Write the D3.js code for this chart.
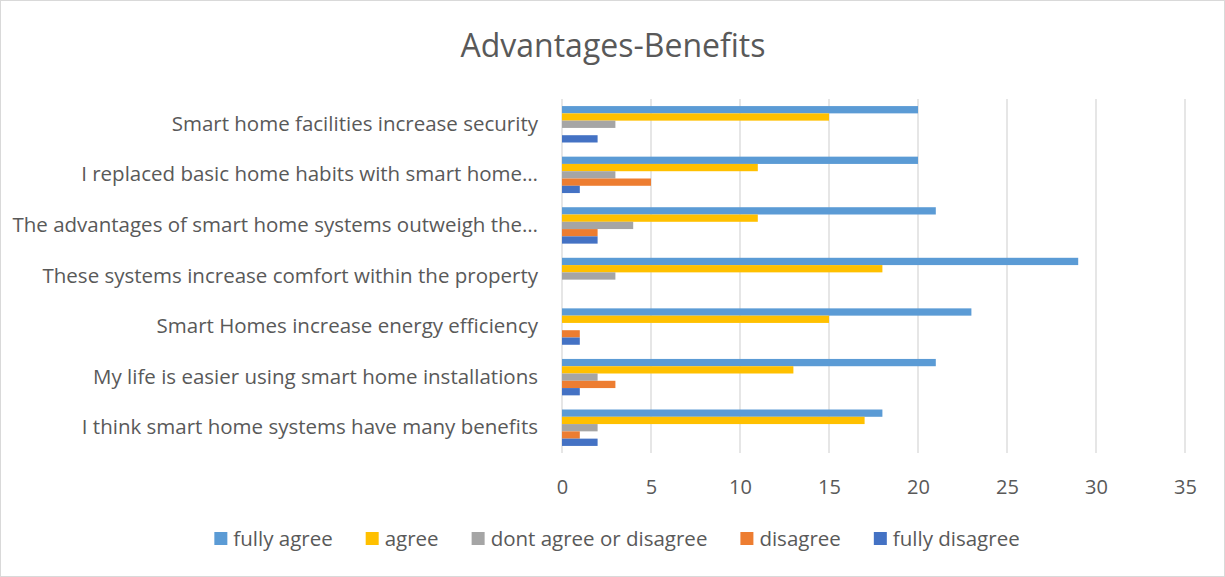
<!DOCTYPE html>
<html>
<head>
<meta charset="utf-8">
<script src="https://cdn.jsdelivr.net/npm/d3@7"></script>
<style>
  body { margin: 0; background: #fff; }
  text { font-family: "Open Sans", "Noto Sans", sans-serif; fill: #595959; }
</style>
</head>
<body>
<div id="chart"></div>
<script>
// categories, top to bottom as drawn
const categories = [
  "Smart home facilities increase security",
  "I replaced basic home habits with smart home\u2026",
  "The advantages of smart home systems outweigh the\u2026",
  "These systems increase comfort within the property",
  "Smart Homes increase energy efficiency",
  "My life is easier using smart home installations",
  "I think smart home systems have many benefits"
];

const seriesNames = ["fully agree", "agree", "dont agree or disagree", "disagree", "fully disagree"];
const seriesColors = ["#5B9BD5", "#FFC000", "#A5A5A5", "#ED7D31", "#4472C4"];

// values per series, same order as categories
const fullyAgree    = [20, 20, 21, 29, 23, 21, 18];
const agree         = [15, 11, 11, 18, 15, 13, 17];
const neutral       = [3, 3, 4, 3, 0, 2, 2];
const disagree      = [0, 5, 2, 0, 1, 3, 1];
const fullyDisagree = [2, 1, 2, 0, 1, 1, 2];

const xTicks = [0, 5, 10, 15, 20, 25, 30, 35];

const seriesValues = [fullyAgree, agree, neutral, disagree, fullyDisagree];

const width = 1225, height = 577;
const plot = {left: 562, right: 1185, top: 99, bottom: 453};

let svg = d3.select("#chart")
  .append("svg")
  .attr("width", width)
  .attr("height", height);

// outer frame
svg.append("rect")
  .attr("x", 0.5).attr("y", 0.5)
  .attr("width", width - 1).attr("height", height - 1)
  .attr("fill", "#fff")
  .attr("stroke", "#D9D9D9");

let x = d3.scaleLinear().domain([0, 35]).range([plot.left, plot.right]);

let y0 = d3.scaleBand()
  .domain(categories)
  .range([plot.top, plot.bottom])
  .paddingInner(0.28)
  .paddingOuter(0.14);

let y1 = d3.scaleBand()
  .domain(seriesNames)
  .range([0, y0.bandwidth()]);

// gridlines
svg.append("g")
  .selectAll("line")
  .data(xTicks)
  .join("line")
  .attr("x1", d => x(d)).attr("x2", d => x(d))
  .attr("y1", plot.top).attr("y2", plot.bottom)
  .attr("stroke", "#D9D9D9")
  .attr("stroke-width", 1.3);

// bars
let rows = [];
categories.forEach(function(c, i) {
  seriesNames.forEach(function(s, j) {
    rows.push({cat: c, series: s, value: seriesValues[j][i], color: seriesColors[j]});
  });
});

svg.append("g")
  .selectAll("rect")
  .data(rows.filter(d => d.value > 0))
  .join("rect")
  .attr("x", x(0))
  .attr("y", d => y0(d.cat) + y1(d.series))
  .attr("width", d => x(d.value) - x(0))
  .attr("height", y1.bandwidth())
  .attr("fill", d => d.color);

// x axis labels
let xAxis = d3.axisBottom(x).tickValues(xTicks).tickSize(0).tickPadding(27);
let gx = svg.append("g")
  .attr("transform", "translate(0," + plot.bottom + ")")
  .call(xAxis);
gx.select(".domain").remove();
gx.selectAll("text")
  .style("font-size", "20px")
  .attr("fill", "#595959");

// category labels
let yAxis = d3.axisLeft(y0).tickSize(0).tickPadding(24);
let gy = svg.append("g")
  .attr("transform", "translate(" + plot.left + ",0)")
  .call(yAxis);
gy.select(".domain").remove();
gy.selectAll("text")
  .style("font-size", "20.5px")
  .attr("fill", "#595959");

// title
svg.append("text")
  .attr("x", 613)
  .attr("y", 57)
  .attr("text-anchor", "middle")
  .style("font-size", "32px")
  .text("Advantages-Benefits");

// legend
let legend = svg.append("g").attr("class", "legend");
let items = legend.selectAll("g")
  .data(seriesNames)
  .join("g");

items.append("rect")
  .attr("width", 13).attr("height", 13)
  .attr("y", -14)
  .attr("fill", (d, i) => seriesColors[i]);

items.append("text")
  .attr("x", 19)
  .attr("y", 0)
  .style("font-size", "20.5px")
  .text(d => d);

let offset = 0;
let widths = [];
items.each(function() {
  let w = 19 + d3.select(this).select("text").node().getComputedTextLength();
  widths.push(w);
});
const gap = 33;
let total = d3.sum(widths) + gap * (widths.length - 1);
let startX = 617 - total / 2;
items.attr("transform", function(d, i) {
  let t = "translate(" + (startX + offset) + ",546)";
  offset += widths[i] + gap;
  return t;
});
</script>
</body>
</html>
